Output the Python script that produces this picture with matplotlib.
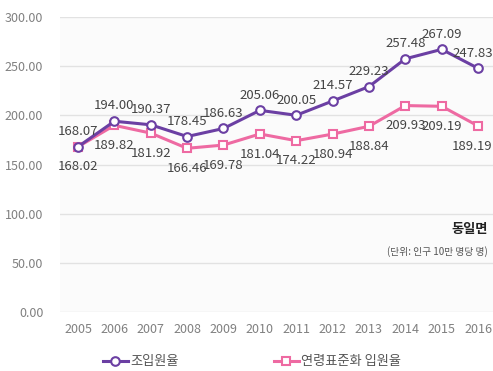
import matplotlib
matplotlib.use("Agg")
import matplotlib.pyplot as plt

plt.rcParams['font.family'] = ['Noto Sans CJK KR', 'DejaVu Sans']

years = [2005, 2006, 2007, 2008, 2009, 2010, 2011, 2012, 2013, 2014, 2015, 2016]
crude = [168.07, 194.00, 190.37, 178.45, 186.63, 205.06, 200.05, 214.57, 229.23, 257.48, 267.09, 247.83]
std = [168.02, 189.82, 181.92, 166.46, 169.78, 181.04, 174.22, 180.94, 188.84, 209.93, 209.19, 189.19]
yticks = [0, 50, 100, 150, 200, 250, 300]
series_names = ['조입원율', '연령표준화 입원율']

purple = '#6b3fa3'
pink = '#ee6aa2'

fig = plt.figure(figsize=(4.93, 3.71), dpi=100)
ax = fig.add_axes([60/493, 1-312/371, 1-60/493, (312-17)/371])
ax.set_facecolor('#fbfbfb')
ax.set_xlim(2004.505, 2016.41)
ax.set_ylim(0, 300)
ax.set_yticks(yticks)
ax.set_yticklabels([f'{v:.2f}' for v in yticks])
ax.set_xticks(years)
ax.set_xticklabels([str(y) for y in years])
ax.grid(axis='y', color='#e2e2e2', linewidth=1)
ax.set_axisbelow(True)
for s in ax.spines.values():
    s.set_visible(False)
ax.tick_params(length=0, colors='#808080', labelsize=9)
ax.tick_params(axis='y', pad=12)
ax.tick_params(axis='x', pad=8)

l1, = ax.plot(years, crude, color=purple, lw=2.2, marker='o', ms=6.2, mfc='white', mec=purple, mew=1.5, label=series_names[0], zorder=4)
l2, = ax.plot(years, std, color=pink, lw=2.2, marker='s', ms=5.8, mfc='white', mec=pink, mew=1.5, label=series_names[1], zorder=3)

n = len(years)
for i, (x, v) in enumerate(zip(years, crude)):
    dx = -4 if i == n - 1 else 0
    ax.annotate(f'{v:.2f}', (x, v), xytext=(dx, 11), textcoords='offset points', ha='center', va='center',
                fontsize=9.5, color='#444444', zorder=5, annotation_clip=False)
for i, (x, v) in enumerate(zip(years, std)):
    dx = -4 if i == n - 1 else 0
    ax.annotate(f'{v:.2f}', (x, v), xytext=(dx, -14.5), textcoords='offset points', ha='center', va='center',
                fontsize=9.5, color='#444444', zorder=5, annotation_clip=False)

fig.text(488/493, 1-229/371, '동일면', ha='right', va='center', fontsize=9.5, fontweight='bold', color='#222222')
fig.text(488/493, 1-252/371, '(단위: 인구 10만 명당 명)', ha='right', va='center', fontsize=7, color='#555555')

fig.legend(handles=[l1, l2], loc='center', bbox_to_anchor=(252/493, 1-362/371), ncol=2, frameon=False,
           fontsize=9.5, handlelength=1.9, handletextpad=0.2, columnspacing=7.2, labelcolor='#555555')

fig.savefig('out.png', dpi=100)
